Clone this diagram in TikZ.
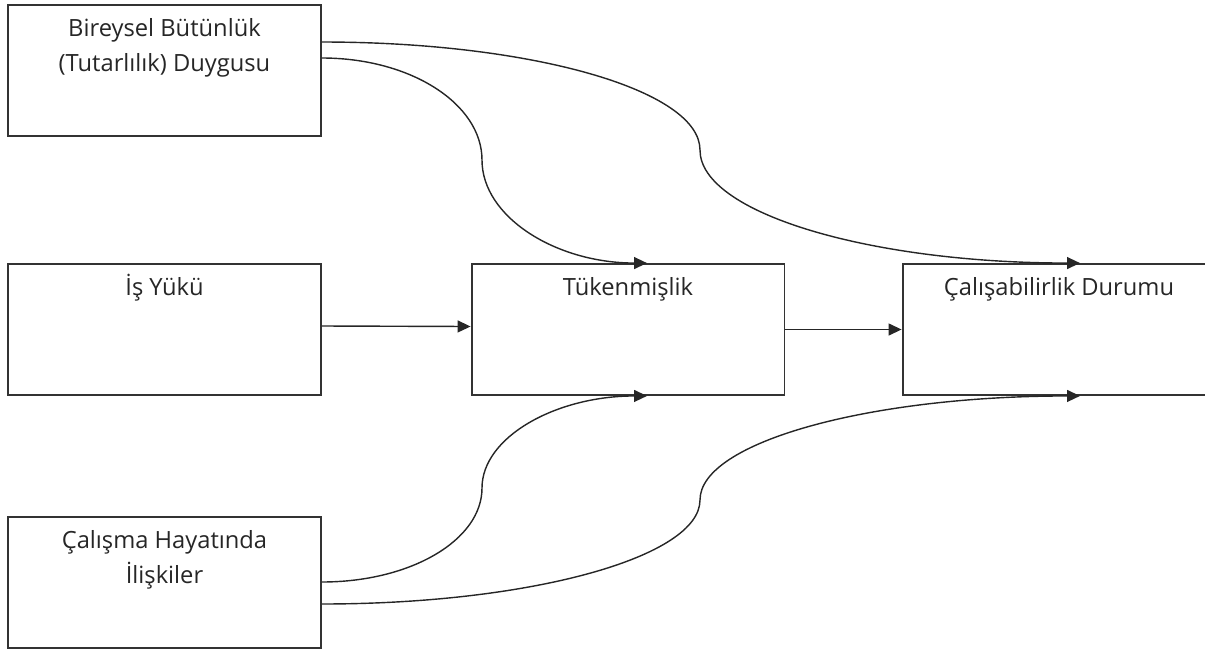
\documentclass[tikz,border=0pt]{standalone}
\usepackage{fontspec}
\setmainfont{Open Sans}
\usetikzlibrary{positioning, arrows.meta}

\tikzset{
  box/.style={draw=black!80, line width=1.1pt, minimum width=6.26cm, minimum height=2.62cm, inner sep=0pt},
  boxtext/.style={font=\fontsize{13.5}{19.9}\selectfont, align=center, inner sep=0pt, text=black!85},
  link/.style={draw=black!85, line width=0.8pt, -{Triangle[length=0.26cm,width=0.24cm]}},
}

\begin{document}
\begin{tikzpicture}[x=0.02cm, y=-0.02cm]
  \clip (0,0) rectangle (1205,650);
  % boxes
  \node[box] (bb) at (164.5,70.5) {};
  \node[box] (iy) at (164.5,329.5) {};
  \node[box] (ci) at (164.5,582.5) {};
  \node[box] (tuk) at (628,329.5) {};
  \node[box] (cal) at (1059,329.5) {};
  % texts
  \node[boxtext, below=4.6pt of bb.north] (bbt) {\strut Bireysel Bütünlük\\\strut (Tutarlılık) Duygusu};
  \node[boxtext, below=4.6pt of iy.north] (iyt) {\strut İş Yükü};
  \node[boxtext, below=4.6pt of ci.north] (cit) {\strut Çalışma Hayatında\\\strut İlişkiler};
  \node[boxtext, below=4.6pt of tuk.north] (tukt) {\strut Tükenmişlik};
  \node[boxtext, below=4.6pt of cal.north] (calt) {\strut Çalışabilirlik Durumu};
  % bends of the curved links
  \coordinate (m1) at (482,160);
  \coordinate (m2) at (700,150);
  \coordinate (m3) at (482,488);
  \coordinate (m4) at (700,500);
  % links
  \draw[link] ([yshift=0.25cm]bb.east) .. controls +(89,0) and +(0,-56) .. (m1)
    .. controls +(0,57) and +(-91,0) .. ([xshift=0.38cm]tuk.north);
  \draw[link] ([yshift=0.57cm]bb.east) .. controls +(209,0) and +(0,-60) .. (m2)
    .. controls +(0,63) and +(-210,0) .. ([xshift=0.42cm]cal.north);
  \draw[link] ([yshift=0.07cm]iy.east) -- ([yshift=0.06cm]tuk.west);
  \draw[link] (tuk.east) -- (cal.west);
  \draw[link] ([yshift=0.01cm]ci.east) .. controls +(89,0) and +(0,52) .. (m3)
    .. controls +(0,-51) and +(-91,0) .. ([xshift=0.38cm]tuk.south);
  \draw[link] ([yshift=-0.43cm]ci.east) .. controls +(209,0) and +(0,57) .. (m4)
    .. controls +(0,-58) and +(-210,0) .. ([xshift=0.42cm]cal.south);
\end{tikzpicture}
\end{document}
